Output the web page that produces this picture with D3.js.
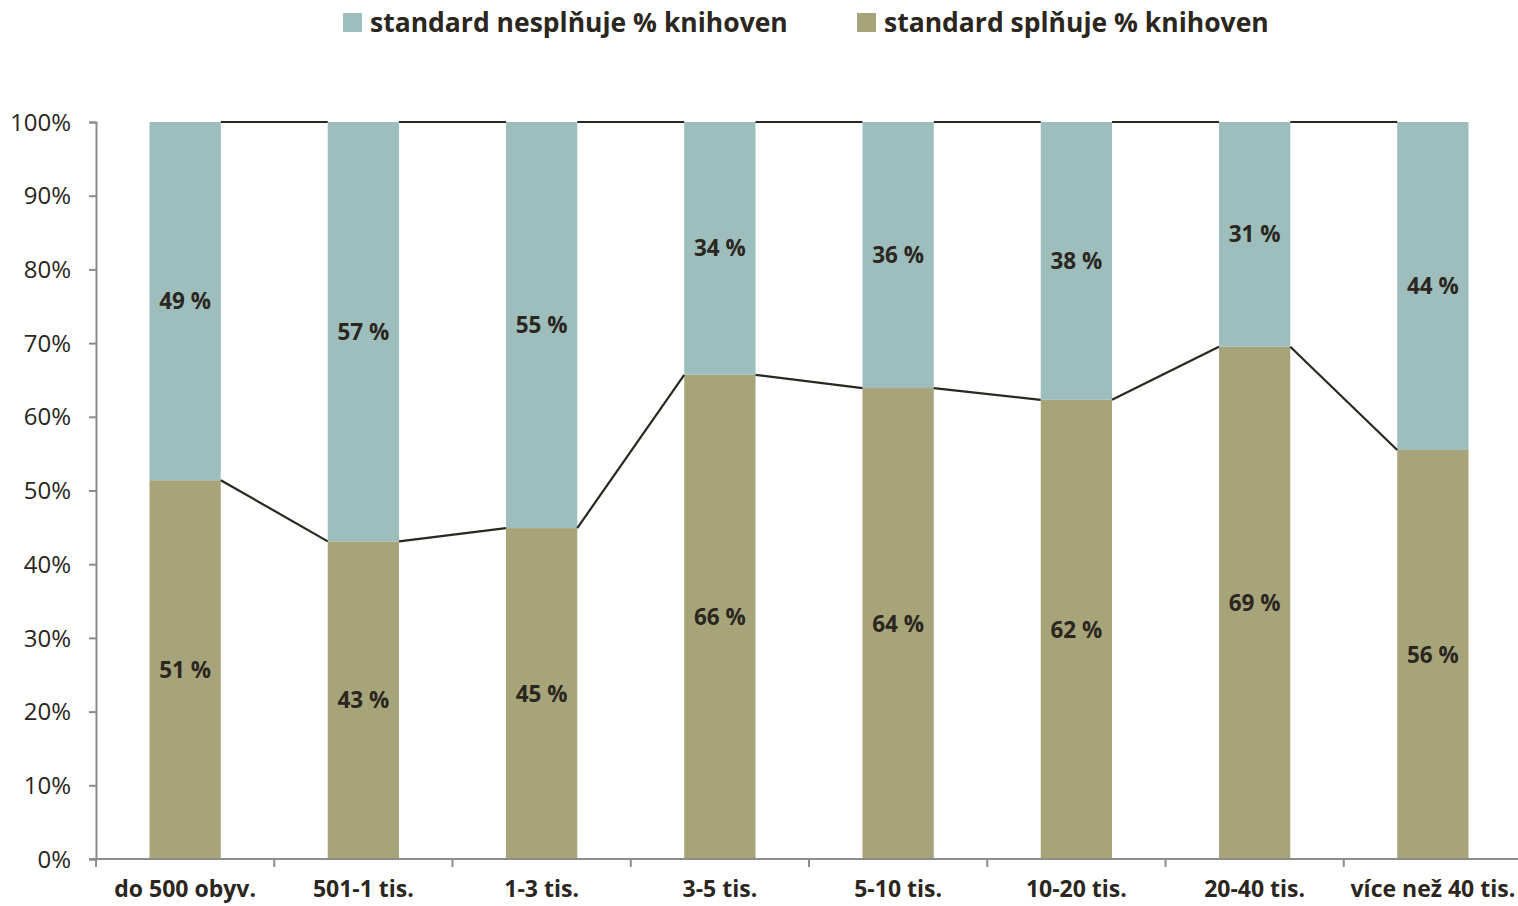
<!DOCTYPE html>
<html><head><meta charset="utf-8">
<script src="https://cdn.jsdelivr.net/npm/d3@7"></script>
<style>body{margin:0;background:#fff}svg{display:block}</style>
</head><body>
<svg id="c" width="1518" height="906"></svg>
<script>
const categories = ["do 500 obyv.","501-1 tis.","1-3 tis.","3-5 tis.","5-10 tis.","10-20 tis.","20-40 tis.","více než 40 tis."];
const meets = [51.4, 43.1, 44.9, 65.7, 63.9, 62.3, 69.5, 55.5];
const meetsLabels = ["51 %","43 %","45 %","66 %","64 %","62 %","69 %","56 %"];
const notMeetsLabels = ["49 %","57 %","55 %","34 %","36 %","38 %","31 %","44 %"];
const seriesNames = ["standard nesplňuje % knihoven","standard splňuje % knihoven"];
const yTicks = [0,10,20,30,40,50,60,70,80,90,100];

const cTeal = "#9DBEBC", cOlive = "#A8A47A", textC = "#2b2620", axisC = "#8c8c8c";
const font = "'Open Sans', sans-serif";
const svg = d3.select("#c");
const x = d3.scaleBand().domain(categories).range([96, 1522]).paddingInner(0.6).paddingOuter(0.3);
const y = d3.scaleLinear().domain([0,100]).range([859,122]);

const data = categories.map((c,i)=>({c, m:meets[i], n:100-meets[i], ml:meetsLabels[i], nl:notMeetsLabels[i]}));

// bars
svg.selectAll(".bm").data(data).enter().append("rect")
  .attr("x", d=>x(d.c)).attr("width", x.bandwidth())
  .attr("y", d=>y(d.m)).attr("height", d=>y(0)-y(d.m)).attr("fill", cOlive);
svg.selectAll(".bn").data(data).enter().append("rect")
  .attr("x", d=>x(d.c)).attr("width", x.bandwidth())
  .attr("y", y(100)).attr("height", d=>y(d.m)-y(100)).attr("fill", cTeal);

// series lines
for (let i=0;i<data.length-1;i++){
  const x1 = x(data[i].c)+x.bandwidth(), x2 = x(data[i+1].c);
  svg.append("line").attr("x1",x1).attr("x2",x2).attr("y1",y(data[i].m)).attr("y2",y(data[i+1].m))
    .attr("stroke","#2a2620").attr("stroke-width",2.2);
  svg.append("line").attr("x1",x1).attr("x2",x2).attr("y1",y(100)).attr("y2",y(100))
    .attr("stroke","#2a2620").attr("stroke-width",2.2);
}

// labels
svg.selectAll(".lm").data(data).enter().append("text")
  .attr("x", d=>x(d.c)+x.bandwidth()/2).attr("y", d=>(y(0)+y(d.m))/2)
  .attr("text-anchor","middle").attr("dy","0.36em")
  .attr("font-family",font).attr("font-weight","bold").attr("font-size",22.5).attr("fill",textC)
  .text(d=>d.ml);
svg.selectAll(".ln").data(data).enter().append("text")
  .attr("x", d=>x(d.c)+x.bandwidth()/2).attr("y", d=>(y(100)+y(d.m))/2)
  .attr("text-anchor","middle").attr("dy","0.36em")
  .attr("font-family",font).attr("font-weight","bold").attr("font-size",22.5).attr("fill",textC)
  .text(d=>d.nl);

// y axis
const ya = svg.append("g").attr("transform","translate(96,0)")
  .call(d3.axisLeft(y).tickValues(yTicks).tickFormat(d=>d+"%").tickSize(7).tickSizeOuter(7));
ya.select(".domain").attr("stroke",axisC).attr("stroke-width",2);
ya.selectAll(".tick line").attr("stroke",axisC).attr("stroke-width",2);
ya.selectAll("text").attr("font-family",font).attr("font-size",24).attr("fill",textC).attr("x",-25).attr("dy","0.34em");

// x axis
svg.append("line").attr("x1",89).attr("x2",1518).attr("y1",y(0)).attr("y2",y(0)).attr("stroke",axisC).attr("stroke-width",2);
const step = x.step();
for (let i=0;i<=categories.length;i++){
  const bx = 96 + i*step;
  svg.append("line").attr("x1",bx).attr("x2",bx).attr("y1",y(0)).attr("y2",y(0)+8).attr("stroke",axisC).attr("stroke-width",2);
}
svg.selectAll(".xl").data(categories).enter().append("text")
  .attr("x", d=>x(d)+x.bandwidth()/2).attr("y", 897)
  .attr("text-anchor","middle")
  .attr("font-family",font).attr("font-weight","bold").attr("font-size",23).attr("fill",textC)
  .text(d=>d);

// legend
const leg = [{n:seriesNames[0],c:cTeal,x:343},{n:seriesNames[1],c:cOlive,x:857}];
leg.forEach(l=>{
  svg.append("rect").attr("x",l.x).attr("y",13).attr("width",19).attr("height",19).attr("fill",l.c);
  svg.append("text").attr("x",l.x+27).attr("y",32)
    .attr("font-family",font).attr("font-weight","bold").attr("font-size",26.5).attr("fill",textC).text(l.n);
});
</script>
</body></html>
